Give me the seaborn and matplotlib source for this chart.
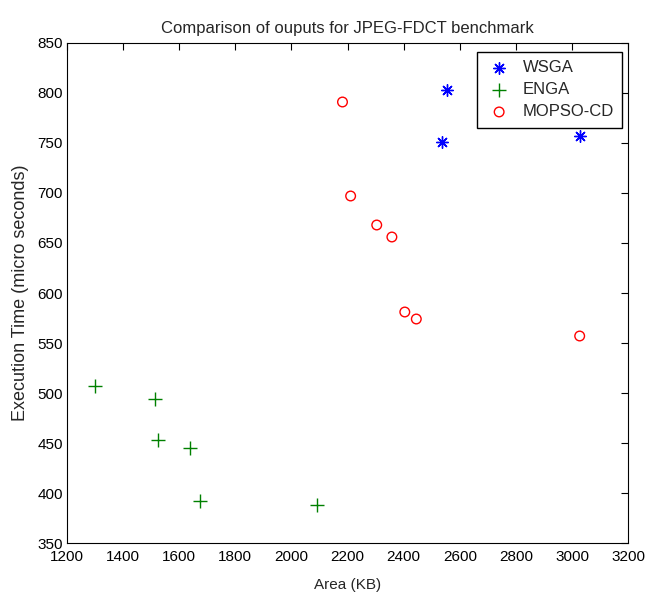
import pandas as pd
import matplotlib.pyplot as plt
import seaborn as sns

# Values
wsga_area = [2555, 2535, 3027]
wsga_time = [803, 751, 757]

enga_area = [1300, 1513, 1523, 1637, 1676, 2090]
enga_time = [507, 494, 453, 445, 392, 388]

mopso_area = [2182, 2211, 2304, 2358, 2404, 2445, 3027]
mopso_time = [791, 697, 668, 656, 581, 574, 557]

x_ticks = list(range(1200, 3201, 200))
y_ticks = list(range(350, 851, 50))

sns.set_theme(style="white")
plt.rcParams['font.family'] = ['Liberation Sans', 'DejaVu Sans']

wsga = pd.DataFrame({'Area': wsga_area, 'Time': wsga_time})
enga = pd.DataFrame({'Area': enga_area, 'Time': enga_time})
mopso = pd.DataFrame({'Area': mopso_area, 'Time': mopso_time})

fig = plt.figure(figsize=(6.49, 5.93), dpi=100)
ax = fig.add_axes([0.103, 0.0843, 0.865, 0.8432])

# MATLAB-like markers: asterisk, plus, open circle
sns.scatterplot(data=wsga, x='Area', y='Time', marker=(8, 2, 0), s=70,
                color='#0000ff', linewidth=1.0, label='WSGA', ax=ax)
sns.scatterplot(data=enga, x='Area', y='Time', marker='+', s=100,
                color='#008000', linewidth=1.0, label='ENGA', ax=ax)
sns.scatterplot(data=mopso, x='Area', y='Time', marker='o', s=48,
                facecolors='none', edgecolor='#ff0000', linewidth=1.0,
                label='MOPSO-CD', ax=ax)

ax.set_xlim(1200, 3200)
ax.set_ylim(350, 850)
ax.set_xticks(x_ticks)
ax.set_yticks(y_ticks)
ax.tick_params(direction='in', top=True, right=True, length=5, width=0.8,
               labelsize=11, colors='black')
ax.tick_params(axis='x', pad=5)
ax.tick_params(axis='y', pad=3)
for sp in ax.spines.values():
    sp.set_color('black')
    sp.set_linewidth(0.8)

ax.set_title('Comparison of ouputs for JPEG-FDCT benchmark', fontsize=12, pad=7)
ax.set_xlabel('Area (KB)', fontsize=11, labelpad=10)
ax.set_ylabel('Execution Time (micro seconds)', fontsize=13, labelpad=6)

ax.legend(loc='upper right', fancybox=False, edgecolor='black', framealpha=1,
          fontsize=12, borderpad=0.5, handlelength=1.6, handletextpad=0.6,
          labelspacing=0.42, borderaxespad=0,
          bbox_to_anchor=(0.989, 0.982))

fig.savefig('out.png', dpi=100)
